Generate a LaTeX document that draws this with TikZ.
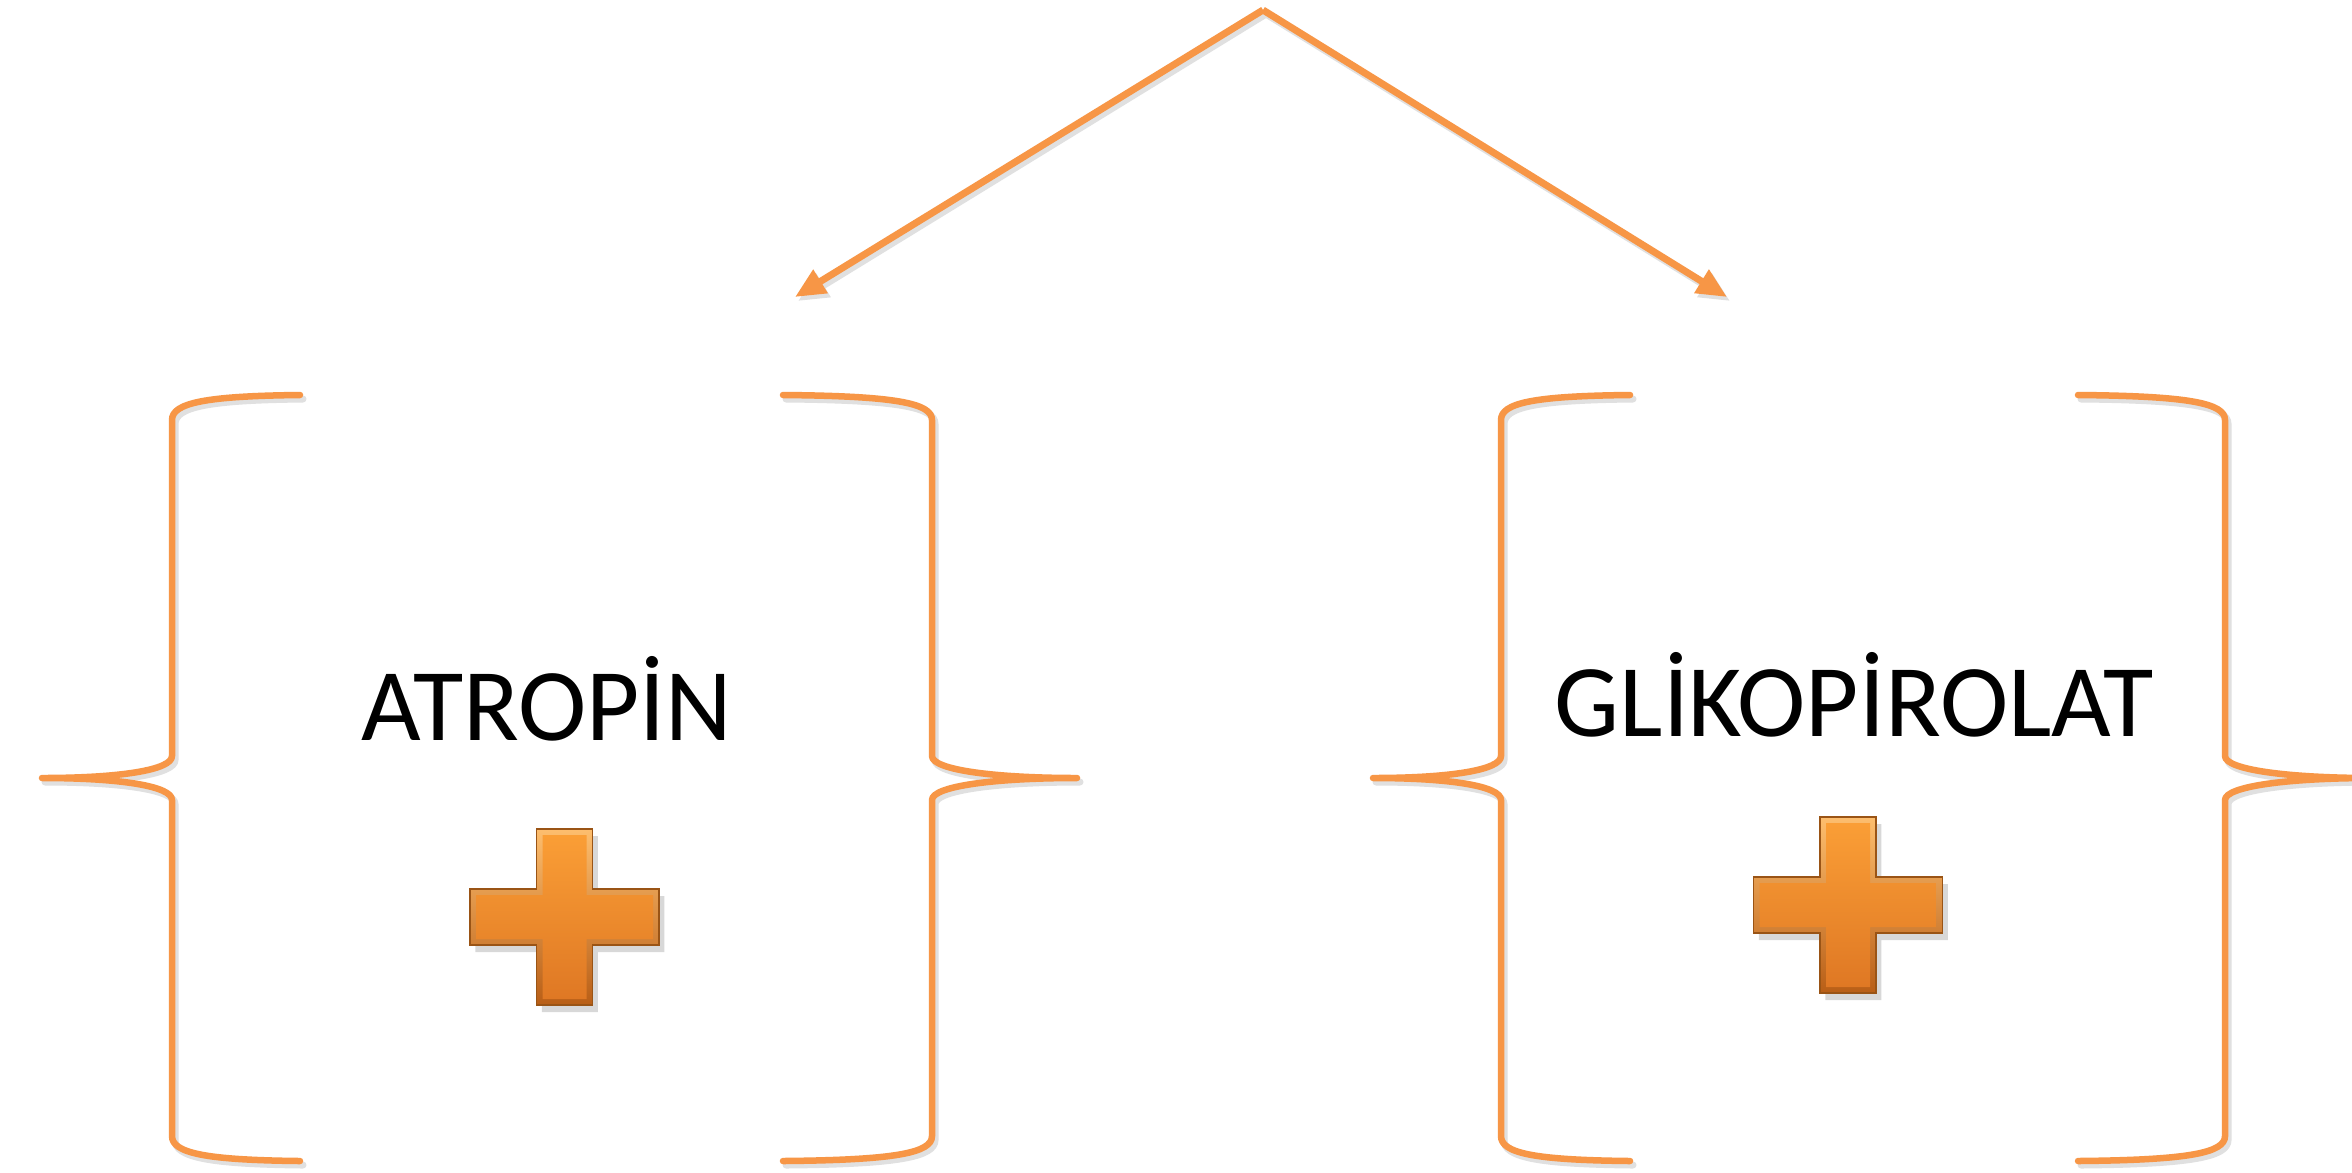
\documentclass[tikz,border=0pt]{standalone}
\usepackage{fontspec}
\setmainfont{Carlito}
\usetikzlibrary{arrows.meta,shadows}
\definecolor{lineor}{HTML}{F79646}
\definecolor{plusedge}{HTML}{9A5415}
\definecolor{plustop}{HTML}{FDBE6E}
\definecolor{plusbot}{HTML}{B85E16}
\definecolor{innertop}{HTML}{FA9E36}
\definecolor{innerbot}{HTML}{DF7824}
\tikzset{
  bracepath/.style={draw=lineor, line width=0.065cm, line cap=round, line join=round},
  braceshadow/.style={draw=black!12, line width=0.07cm, line cap=round, line join=round},
  arrowline/.style={draw=lineor, line width=0.07cm, -{Triangle[length=0.3cm,width=0.26cm]}},
  arrowshadow/.style={draw=black!12, line width=0.07cm, -{Triangle[length=0.3cm,width=0.26cm]}},
  lbl/.style={font=\fontsize{29.3}{35}\selectfont, text=black, inner sep=0pt, anchor=base},
  plusouter/.style={top color=plustop, bottom color=plusbot, draw=plusedge, line width=0.4pt,
    drop shadow={opacity=0.3, shadow xshift=1.5pt, shadow yshift=-2pt}},
  plusinner/.style={top color=innertop, bottom color=innerbot}
}
\begin{document}
\begin{tikzpicture}[x=0.01cm,y=-0.01cm]
\useasboundingbox (0,0) rectangle (2352,1172);
\clip (0,0) rectangle (2352,1172);
\fill[white] (0,0) rectangle (2352,1172);

% coordinates for arrows
\coordinate (apex) at (1263,10);
\coordinate (tipL) at (795,297);
\coordinate (tipR) at (1727,297);
\coordinate (apexS) at (1266,14);
\coordinate (tipLS) at (798,301);
\coordinate (tipRS) at (1730,301);

\draw[arrowshadow] (apexS) -- (tipLS);
\draw[arrowshadow] (apexS) -- (tipRS);
\draw[arrowline] (apex) -- (tipL);
\draw[arrowline] (apex) -- (tipR);

% braces
\foreach \sx/\sy/\st in {3/4/braceshadow, 0/0/bracepath}{
\begin{scope}[shift={(\sx,\sy)}]
\draw[\st] (300,395) .. controls (205,396) and (172,403) .. (172,420) -- (172,756)
  .. controls (172,770) and (120,778) .. (42,778)
  .. controls (120,778) and (172,786) .. (172,800) -- (172,1136)
  .. controls (172,1153) and (205,1160) .. (300,1161);
\draw[\st] (783,395) .. controls (895,396) and (932,403) .. (932,420) -- (932,756)
  .. controls (932,770) and (995,778) .. (1077,778)
  .. controls (995,778) and (932,786) .. (932,800) -- (932,1136)
  .. controls (932,1153) and (895,1160) .. (783,1161);
\draw[\st] (1630,395) .. controls (1533,396) and (1501,403) .. (1501,420) -- (1501,756)
  .. controls (1501,770) and (1450,778) .. (1373,778)
  .. controls (1450,778) and (1501,786) .. (1501,800) -- (1501,1136)
  .. controls (1501,1153) and (1533,1160) .. (1630,1161);
\draw[\st] (2078,395) .. controls (2188,396) and (2225,403) .. (2225,420) -- (2225,756)
  .. controls (2225,770) and (2290,778) .. (2372,778)
  .. controls (2290,778) and (2225,786) .. (2225,800) -- (2225,1136)
  .. controls (2225,1153) and (2188,1160) .. (2078,1161);
\end{scope}}

% labels
\node[lbl] (atropin) at (547,740) {ATROPİN};
\node[lbl] (gliko) at (1854,736) {GLİKOPİROLAT};

% plus signs
\foreach \cx/\cy/\nm in {564.5/917/plusL, 1848/905/plusR}{
\begin{scope}[shift={(\cx,\cy)}]
\path[plusouter] (-28,-88) -- (28,-88) -- (28,-28) -- (94.5,-28) -- (94.5,28) -- (28,28) -- (28,88)
  -- (-28,88) -- (-28,28) -- (-94.5,28) -- (-94.5,-28) -- (-28,-28) -- cycle;
\path[plusinner] (-22,-82) -- (22,-82) -- (22,-22) -- (88.5,-22) -- (88.5,22) -- (22,22) -- (22,82)
  -- (-22,82) -- (-22,22) -- (-88.5,22) -- (-88.5,-22) -- (-22,-22) -- cycle;
\coordinate (\nm) at (0,0);
\end{scope}}
\end{tikzpicture}
\end{document}
